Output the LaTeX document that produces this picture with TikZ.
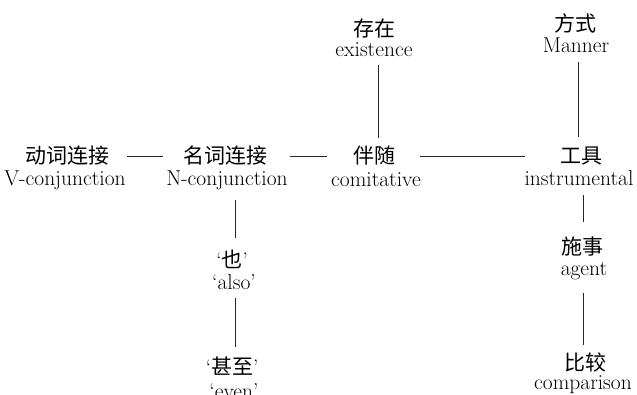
\documentclass[tikz,border=0pt]{standalone}
\usepackage{fontspec}
\newfontfamily\cjk{Noto Sans CJK SC}
\begin{document}
\begin{tikzpicture}[x=1pt,y=-1pt,
  zh/.style={font=\cjk\fontsize{21}{21}\selectfont, inner sep=0pt, text height=16.8pt, text depth=2.1pt, anchor=center},
  en/.style={font=\fontsize{21.5}{21.5}\selectfont, inner sep=0pt, text height=14.5pt, text depth=4.5pt, anchor=base},
  link/.style={line width=0.9pt, draw=black!85}]
\useasboundingbox (0,0) rectangle (637,395);
% main row
\node[zh] (vc) at (67,156) {动词连接};
\node[en] (vce) at (65,186) {V-conjunction};
\node[zh] (nc) at (225,156) {名词连接};
\node[en] (nce) at (227,186) {N-conjunction};
\node[zh] (bs) at (374,156) {伴随};
\node[en] (bse) at (376,187) {comitative};
\node[zh] (gj) at (581,156) {工具};
\node[en] (gje) at (579,186) {instrumental};
% top
\node[zh] (cz) at (374,29) {存在};
\node[en] (cze) at (374,57) {existence};
\node[zh] (fs) at (575,24) {方式};
\node[en] (fse) at (576,53) {Manner};
% left column
\node[zh] (ye) at (232,260) {{\rmfamily ‘}也{\rmfamily ’}};
\node[en] (yee) at (234,290) {‘also’};
\node[zh] (sz) at (232,367) {{\rmfamily ‘}甚至{\rmfamily ’}};
\node[en] (sze) at (234,398) {‘even’};
% right column
\node[zh] (ss) at (582,247) {施事};
\node[en] (sse) at (584,276) {agent};
\node[zh] (bj) at (585,363) {比较};
\node[en] (bje) at (583,389) {comparison};
% horizontal connectors
\draw[link, shorten <=18pt, shorten >=20pt] (vc) -- (nc);
\draw[link, shorten <=23pt, shorten >=26pt] (nc) -- (bs);
\draw[link, shorten <=25pt, shorten >=35pt] (bs) -- (gj);
% vertical connectors
\draw[link, shorten <=3.5pt, shorten >=8.5pt] ([xshift=4pt]cze.south) -- ([xshift=4pt]bs.north);
\draw[link, shorten <=4.5pt, shorten >=9.5pt] ([xshift=2pt]fse.south) -- ([xshift=-3pt]gj.north);
\draw[link, shorten <=9.5pt, shorten >=12.5pt] ([xshift=8pt]nce.south) -- ([xshift=3pt]ye.north);
\draw[link, shorten <=3.5pt, shorten >=10.5pt] ([xshift=1pt]yee.south) -- ([xshift=3pt]sz.north);
\draw[link, shorten <=4.5pt, shorten >=15.5pt] ([xshift=4pt]gje.south) -- ([xshift=1pt]ss.north);
\draw[link, shorten <=12.5pt, shorten >=8.5pt] ([xshift=-1pt]sse.south) -- ([xshift=-2pt]bj.north);
\end{tikzpicture}
\end{document}
